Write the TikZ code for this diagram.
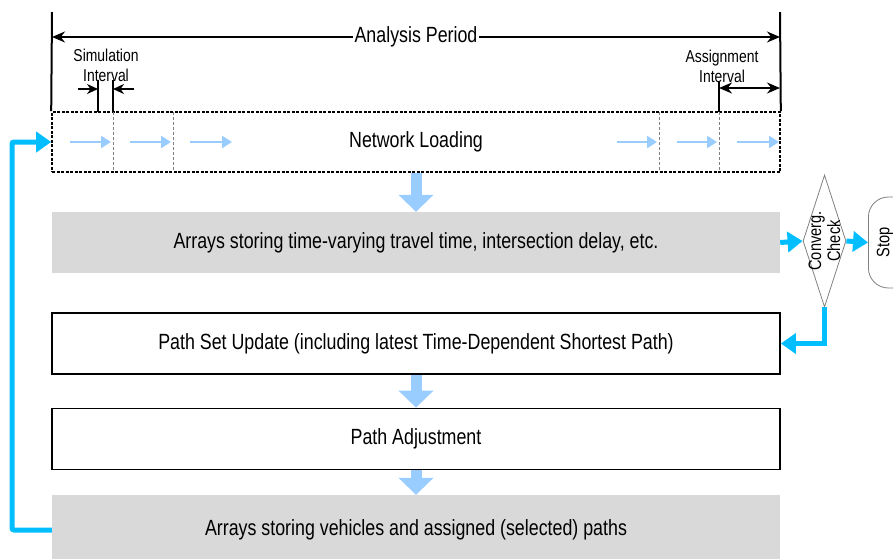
\documentclass[tikz,border=0pt]{standalone}
\usepackage{fontspec}
\setmainfont{Liberation Sans}[FakeStretch=0.81]
\usetikzlibrary{arrows.meta,shapes.geometric}
\definecolor{lblue}{RGB}{153,204,255}
\definecolor{cyanarr}{RGB}{0,190,255}
\definecolor{boxgray}{RGB}{217,217,217}
\begin{document}
\begin{tikzpicture}[x=1pt,y=-1pt,
  every node/.style={font=\fontsize{22}{24}\selectfont, inner sep=0pt},
  small/.style={font=\fontsize{17.2}{20}\selectfont, align=center},
  graybox/.style={fill=boxgray, minimum width=728pt, minimum height=61pt},
  whitebox/.style={draw=black, line width=1.8pt, minimum width=728pt, minimum height=61pt},
  dim/.style={line width=2pt, -{Stealth[length=13pt,width=11pt]}},
  dimboth/.style={line width=2pt, {Stealth[length=13pt,width=11pt]}-{Stealth[length=13pt,width=11pt]}},
  flow/.style={line width=2.8pt, lblue, -{Triangle[length=10pt,width=12pt]}},
  blockarrow/.style={line width=11pt, lblue, -{Triangle[length=17pt,width=34pt]}},
  cyanarrow/.style={line width=5pt, cyanarr, -{Triangle[length=15pt,width=20pt]}},
  sep/.style={gray, dashed, line width=1pt, dash pattern=on 3pt off 2pt},
]
\useasboundingbox (0,0) rectangle (893,558);
\clip (0,0) rectangle (893,558);

% network loading
\node[draw=black, line width=1.6pt, dash pattern=on 3pt off 1.5pt, minimum width=728pt, minimum height=60pt] (nl) at (416,142) {};
\node (nltext) at (416,142) {Network Loading};
\foreach \x [count=\i] in {113,173,659,719} \coordinate (s\i) at (\x,112);
\foreach \i in {1,...,4} \draw[sep] (s\i) -- ++(0,60);
\foreach \a/\b [count=\k] in {70/111,130/171,190/232,617/657,677/717,737/779} {
  \coordinate (fa\k) at (\a,142); \coordinate (fb\k) at (\b,142);
  \draw[flow] (fa\k) -- (fb\k);
}

% top dimension lines
\coordinate (tl) at (52,12); \coordinate (tr) at (780,12);
\draw[line width=2pt] (tl) -- (nl.north west);
\draw[line width=2pt] (tr) -- (nl.north east);
\coordinate (apl) at (52,37); \coordinate (apr) at (780,37);
\draw[dimboth] (apl) -- (apr) node[midway, fill=white, inner xsep=2pt, inner ysep=1pt] (ap) {Analysis Period};

% simulation interval
\node[small] (simtext) at (106,65) {Simulation\\Interval};
\coordinate (sv1) at (98,80); \coordinate (sv1b) at (98,112);
\coordinate (sv2) at (113,80); \coordinate (sv2b) at (113,112);
\draw[line width=1.5pt] (sv1) -- (sv1b);
\draw[line width=1.5pt] (sv2) -- (sv2b);
\coordinate (sa1) at (78,89); \coordinate (sa1e) at (98,89);
\coordinate (sa2) at (134,89); \coordinate (sa2e) at (113,89);
\draw[dim, -{Stealth[length=11pt,width=10pt]}] (sa1) -- (sa1e);
\draw[dim, -{Stealth[length=11pt,width=10pt]}] (sa2) -- (sa2e);

% assignment interval
\node[small] (asgtext) at (722,66) {Assignment\\Interval};
\coordinate (av) at (719,82); \coordinate (avb) at (719,112);
\draw[line width=1.5pt] (av) -- (avb);
\coordinate (aa1) at (719,88); \coordinate (aa2) at (780,88);
\draw[dimboth] (aa1) -- (aa2);

% boxes
\node[graybox] (g1) at (416,242.5) {Arrays storing time-varying travel time, intersection delay, etc.};
\node[whitebox] (b2) at (416,343.5) {Path Set Update (including latest Time-Dependent Shortest Path)};
\node[whitebox] (b3) at (416,439) {Path Adjustment};
\node[graybox, minimum height=66pt] (g4) at (416,528) {};
\node (g4text) at (416,530) {Arrays storing vehicles and assigned (selected) paths};

% block arrows
\draw[blockarrow] (nl.south) -- (g1.north);
\draw[blockarrow] (b2.south) -- (b3.north);
\draw[blockarrow] (b3.south) -- (g4.north);

% convergence check
\node[draw=gray, line width=0.8pt, diamond, minimum width=43pt, minimum height=132pt, inner sep=0pt] (dia) at (824.5,241) {};
\node[small, font=\fontsize{18}{19}\selectfont, rotate=90] (diatext) at (824.5,241) {Converg.\\Check};
\node[draw=gray, line width=0.8pt, rounded corners=20pt, minimum width=60pt, minimum height=91pt, anchor=west] (stop) at (868,242.5) {};
\node[font=\fontsize{18}{19}\selectfont, rotate=90] (stoptext) at (885,242.5) {Stop};

\draw[cyanarrow] (g1.east) -- (dia.west);
\draw[cyanarrow] (dia.east) -- (stop.west);
\coordinate (dturn) at (824.5,343.5);
\draw[cyanarrow] (dia.south) -- (dturn) -- (b2.east);

% feedback
\coordinate (fb1) at (12,530);
\coordinate (fb2) at (12,142);
\draw[cyanarrow, rounded corners=2pt] (g4.west |- fb1) -- (fb1) -- (fb2) -- (nl.west);
\end{tikzpicture}
\end{document}
